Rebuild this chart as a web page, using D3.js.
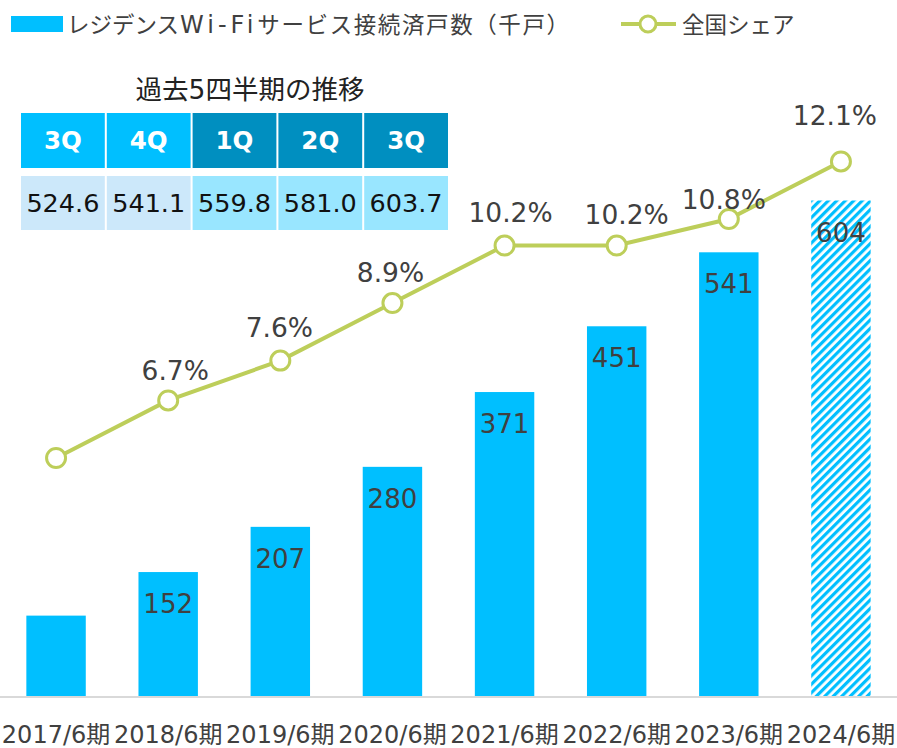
<!DOCTYPE html>
<html><head><meta charset="utf-8">
<script src="https://cdn.jsdelivr.net/npm/d3@7"></script>
<style>
html,body{margin:0;padding:0;background:#fff;}
svg text{font-family:"DejaVu Sans","Noto Sans CJK JP",sans-serif;}
</style></head>
<body><svg id="c" width="897" height="748"></svg>
<script>
// ---- data ----
const categories = ["2017/6期","2018/6期","2019/6期","2020/6期","2021/6期","2022/6期","2023/6期","2024/6期"];
const subscribers = [99, 152, 207, 280, 371, 451, 541, 604];      // 千戸
const subscriberLabels = ["", "152", "207", "280", "371", "451", "541", "604"];
const shareValues = [5.4, 6.7, 7.6, 8.9, 10.2, 10.2, 10.8, 12.1];  // %
const shareLabels = ["", "6.7%", "7.6%", "8.9%", "10.2%", "10.2%", "10.8%", "12.1%"];
const quarterHeaders = ["3Q","4Q","1Q","2Q","3Q"];
const quarterValues = ["524.6","541.1","559.8","581.0","603.7"];
const legendBarParts = ["レジデンス","Wi-Fi","サービス接続済戸数（千戸）"];
const legendLine = "全国シェア";
const tableTitle = "過去5四半期の推移";

// ---- layout ----
const W = 897, H = 748, base = 697;
const svg = d3.select("#c");
const barColor = "#00BFFF", lineColor = "#BDCE5A", textColor = "#404040";

const defs = svg.append("defs");
const pat = defs.append("pattern").attr("id","hatch").attr("patternUnits","userSpaceOnUse")
  .attr("width",6).attr("height",6).attr("patternTransform","rotate(45)");
pat.append("rect").attr("width",6).attr("height",6).attr("fill","#fff");
pat.append("rect").attr("x",0).attr("y",0).attr("width",3.2).attr("height",6).attr("fill",barColor);

const x = d3.scaleBand().domain(categories).range([0, W]).paddingInner(0.47).paddingOuter(0.235);
const yBar = d3.scaleLinear().domain([0, 700]).range([base, base - 0.822*700]);
const yLine = d3.scaleLinear().domain([0, 14]).range([base, base - 44.26*14]);

// bars
svg.append("g").selectAll("rect").data(categories).join("rect")
  .attr("x", d => x(d)).attr("width", x.bandwidth())
  .attr("y", (d,i) => yBar(subscribers[i]))
  .attr("height", (d,i) => base - yBar(subscribers[i]))
  .attr("fill", (d,i) => i === categories.length-1 ? "url(#hatch)" : barColor);

// axis baseline
const xAxis = d3.axisBottom(x).tickSize(0).tickPadding(0);
const ax = svg.append("g").attr("transform", `translate(0,${base})`).call(xAxis);
ax.select(".domain").attr("d", `M0,0H${W}`).attr("stroke","#D9D9D9").attr("stroke-width",2);
ax.selectAll("text").attr("y", 46).attr("dy", null).attr("font-size", 24)
  .attr("fill", textColor).attr("text-anchor","middle")
  .style("font-family",'"DejaVu Sans","Noto Sans CJK JP",sans-serif');

// bar labels
svg.append("g").selectAll("text").data(categories).join("text")
  .attr("x", d => x(d) + x.bandwidth()/2)
  .attr("y", (d,i) => yBar(subscribers[i]) + 41)
  .attr("text-anchor","middle").attr("font-size",26).attr("fill",textColor)
  .text((d,i) => subscriberLabels[i]);

// line
const cx = d => x(d) + x.bandwidth()/2;
svg.append("path").datum(categories)
  .attr("d", d3.line().x(d => cx(d)).y((d,i) => yLine(shareValues[i])))
  .attr("fill","none").attr("stroke",lineColor).attr("stroke-width",4);
svg.append("g").selectAll("circle").data(categories).join("circle")
  .attr("cx", cx).attr("cy", (d,i) => yLine(shareValues[i])).attr("r", 9.5)
  .attr("fill","#fff").attr("stroke",lineColor).attr("stroke-width",3);

// share labels (manual nudges like the original)
const nudge = [[0,-22],[7,-20],[-1,-24],[-2,-21],[6,-24],[10,-22],[-5,-10],[-6,-36]];
svg.append("g").selectAll("text").data(categories).join("text")
  .attr("x", (d,i) => cx(d) + nudge[i][0])
  .attr("y", (d,i) => yLine(shareValues[i]) + nudge[i][1])
  .attr("text-anchor","middle").attr("font-size",26.5).attr("fill",textColor)
  .text((d,i) => shareLabels[i]);

// legend
svg.append("rect").attr("x",11).attr("y",16).attr("width",52).attr("height",16).attr("fill",barColor);
const lt = svg.append("text").attr("x",67).attr("y",33).attr("font-size",22.5).attr("fill",textColor);
lt.append("tspan").text(legendBarParts[0]);
lt.append("tspan").attr("letter-spacing",4).attr("font-size",24).attr("dx",1).text(legendBarParts[1]);
lt.append("tspan").attr("letter-spacing",1.6).text(legendBarParts[2]);
svg.append("line").attr("x1",621).attr("x2",676).attr("y1",24).attr("y2",24)
  .attr("stroke",lineColor).attr("stroke-width",4);
svg.append("circle").attr("cx",648).attr("cy",24).attr("r",8).attr("fill","#fff")
  .attr("stroke",lineColor).attr("stroke-width",3);
svg.append("text").attr("x",682).attr("y",33).attr("font-size",22.5).attr("fill",textColor).text(legendLine);

// table
svg.append("text").attr("x",250).attr("y",99).attr("text-anchor","middle")
  .attr("font-size",26.5).attr("fill","#222").text(tableTitle);
const tx = d3.scaleBand().domain(d3.range(quarterHeaders.length)).range([21, 21 + 85.4*5]).paddingInner(0.0234);
const hdrFill = i => i < 2 ? "#00BFFF" : "#008FC0";
const valFill = i => i < 2 ? "#CCE8FA" : "#99E6FF";
const tg = svg.append("g");
tg.selectAll("rect.h").data(quarterHeaders).join("rect").attr("class","h")
  .attr("x",(d,i)=>tx(i)).attr("y",113).attr("width",tx.bandwidth()).attr("height",55)
  .attr("fill",(d,i)=>hdrFill(i));
tg.selectAll("text.h").data(quarterHeaders).join("text").attr("class","h")
  .attr("x",(d,i)=>tx(i)+tx.bandwidth()/2).attr("y",149).attr("text-anchor","middle")
  .attr("font-size",24.5).attr("font-weight","bold").attr("fill","#fff").text(d=>d);
tg.selectAll("rect.v").data(quarterValues).join("rect").attr("class","v")
  .attr("x",(d,i)=>tx(i)).attr("y",176).attr("width",tx.bandwidth()).attr("height",54)
  .attr("fill",(d,i)=>valFill(i));
tg.selectAll("text.v").data(quarterValues).join("text").attr("class","v")
  .attr("x",(d,i)=>tx(i)+tx.bandwidth()/2).attr("y",212).attr("text-anchor","middle")
  .attr("font-size",25.5).attr("fill","#111").text(d=>d);
</script></body></html>
